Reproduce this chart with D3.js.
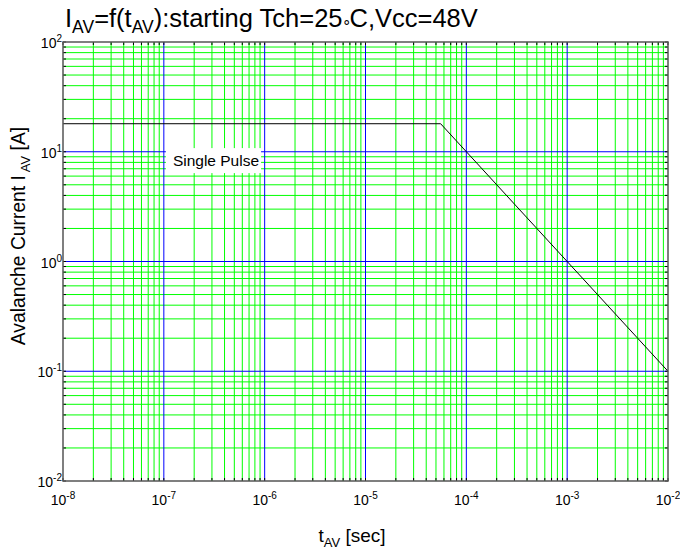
<!DOCTYPE html>
<html><head><meta charset="utf-8">
<script src="https://cdn.jsdelivr.net/npm/d3@7"></script>
<style>
html,body{margin:0;padding:0;background:#fff;}
text{font-family:Arial,"Liberation Sans",sans-serif;fill:#000;}
</style></head>
<body>
<svg id="chart" width="680" height="554"></svg>
<script>
// data
const tAV = [1e-8, 5.56e-5, 1e-2];      // seconds
const iAV = [18, 18, 0.1];               // amperes
const xDecades = [-8, -7, -6, -5, -4, -3, -2];
const yDecades = [-2, -1, 0, 1, 2];
const annotationText = "Single Pulse";
const annotationAt = [1.23e-7, 7.4];

const svg = d3.select("#chart");
const L = 63, R = 668, T = 42, B = 481;
const x = d3.scaleLog().domain([1e-8, 1e-2]).range([L, R]);
const y = d3.scaleLog().domain([1e-2, 1e2]).range([B, T]);

const xMinor = [], yMinor = [];
for (let d = -8; d < -2; d++) for (let m = 2; m <= 9; m++) xMinor.push(m * Math.pow(10, d));
for (let d = -2; d < 2; d++) for (let m = 2; m <= 9; m++) yMinor.push(m * Math.pow(10, d));
const xMajor = xDecades.map(e => Math.pow(10, e));
const yMajor = yDecades.map(e => Math.pow(10, e));

const g = svg.append("g");
g.selectAll("line.gxm").data(xMinor).join("line").attr("class", "gxm")
  .attr("x1", d => x(d)).attr("x2", d => x(d)).attr("y1", T).attr("y2", B)
  .attr("stroke", "#00ff00").attr("stroke-width", 1);
g.selectAll("line.gym").data(yMinor).join("line").attr("class", "gym")
  .attr("y1", d => y(d)).attr("y2", d => y(d)).attr("x1", L).attr("x2", R)
  .attr("stroke", "#00ff00").attr("stroke-width", 1);
g.selectAll("line.gxM").data(xMajor.slice(1, -1)).join("line").attr("class", "gxM")
  .attr("x1", d => x(d)).attr("x2", d => x(d)).attr("y1", T).attr("y2", B)
  .attr("stroke", "#0000ff").attr("stroke-width", 1);
g.selectAll("line.gyM").data(yMajor.slice(1, -1)).join("line").attr("class", "gyM")
  .attr("y1", d => y(d)).attr("y2", d => y(d)).attr("x1", L).attr("x2", R)
  .attr("stroke", "#0000ff").attr("stroke-width", 1);

// curve
const line = d3.line().x((d, i) => x(tAV[i])).y((d, i) => y(iAV[i]));
svg.append("path").datum(tAV).attr("d", line)
  .attr("fill", "none").attr("stroke", "#000").attr("stroke-width", 1);

// annotation
const ax = x(annotationAt[0]), ay = y(annotationAt[1]);
const annG = svg.append("g");
const annBg = annG.append("rect");
const ann = annG.append("text").attr("x", ax).attr("y", ay)
  .attr("font-size", 15.5).text(annotationText);
const bb = ann.node().getBBox();
annBg.attr("x", bb.x - 7).attr("y", ay - 18).attr("width", bb.width + 9).attr("height", 25)
  .attr("fill", "#fff");

// ticks
const tk = 3;
const tg = svg.append("g").attr("stroke", "#000").attr("stroke-width", 1);
[...xMinor, ...xMajor].forEach(v => {
  const xx = x(v);
  tg.append("line").attr("x1", xx).attr("x2", xx).attr("y1", B).attr("y2", B - tk);
  tg.append("line").attr("x1", xx).attr("x2", xx).attr("y1", T).attr("y2", T + tk);
});
[...yMinor, ...yMajor].forEach(v => {
  const yy = y(v);
  tg.append("line").attr("y1", yy).attr("y2", yy).attr("x1", L).attr("x2", L + tk);
  tg.append("line").attr("y1", yy).attr("y2", yy).attr("x1", R).attr("x2", R - tk);
});
// frame
svg.append("rect").attr("x", L).attr("y", T).attr("width", R - L).attr("height", B - T)
  .attr("fill", "none").attr("stroke", "#555").attr("stroke-width", 1.5);

// tick labels
xDecades.forEach(e => {
  const t = svg.append("text").attr("x", x(Math.pow(10, e))).attr("y", 505)
    .attr("text-anchor", "middle").attr("font-size", 14);
  t.append("tspan").text("10");
  t.append("tspan").attr("font-size", 10).attr("dy", -6).text(e);
});
yDecades.forEach(e => {
  const t = svg.append("text").attr("x", 62).attr("y", y(Math.pow(10, e)) + 6)
    .attr("text-anchor", "end").attr("font-size", 14);
  t.append("tspan").text("10");
  t.append("tspan").attr("font-size", 10).attr("dy", -6).text(e);
});

// axis labels
const xl = svg.append("text").attr("x", 352).attr("y", 542).attr("text-anchor", "middle").attr("font-size", 19);
xl.append("tspan").text("t");
xl.append("tspan").attr("font-size", 13).attr("dy", 5).text("AV");
xl.append("tspan").attr("dy", -5).text(" [sec]");

const yl = svg.append("text").attr("transform", "translate(25,236) rotate(-90)")
  .attr("text-anchor", "middle").attr("font-size", 19.3);
yl.append("tspan").text("Avalanche Current I");
yl.append("tspan").attr("font-size", 13).attr("dy", 5).text(" AV");
yl.append("tspan").attr("dy", -5).text(" [A]");

// title
const ti = svg.append("text").attr("x", 65).attr("y", 27).attr("font-size", 25.5);
ti.append("tspan").text("I");
ti.append("tspan").attr("font-size", 17.5).attr("dy", 5.5).text("AV");
ti.append("tspan").attr("dy", -5.5).text("=f(t");
ti.append("tspan").attr("font-size", 17.5).attr("dy", 5.5).text("AV");
ti.append("tspan").attr("dy", -5.5).text("):starting Tch=25");
ti.append("tspan").attr("font-size", 15).attr("font-weight", 300).attr("dx", -1).text("\u2218");
ti.append("tspan").attr("dx", -1).text("C,Vcc=48V");
</script>
</body></html>
